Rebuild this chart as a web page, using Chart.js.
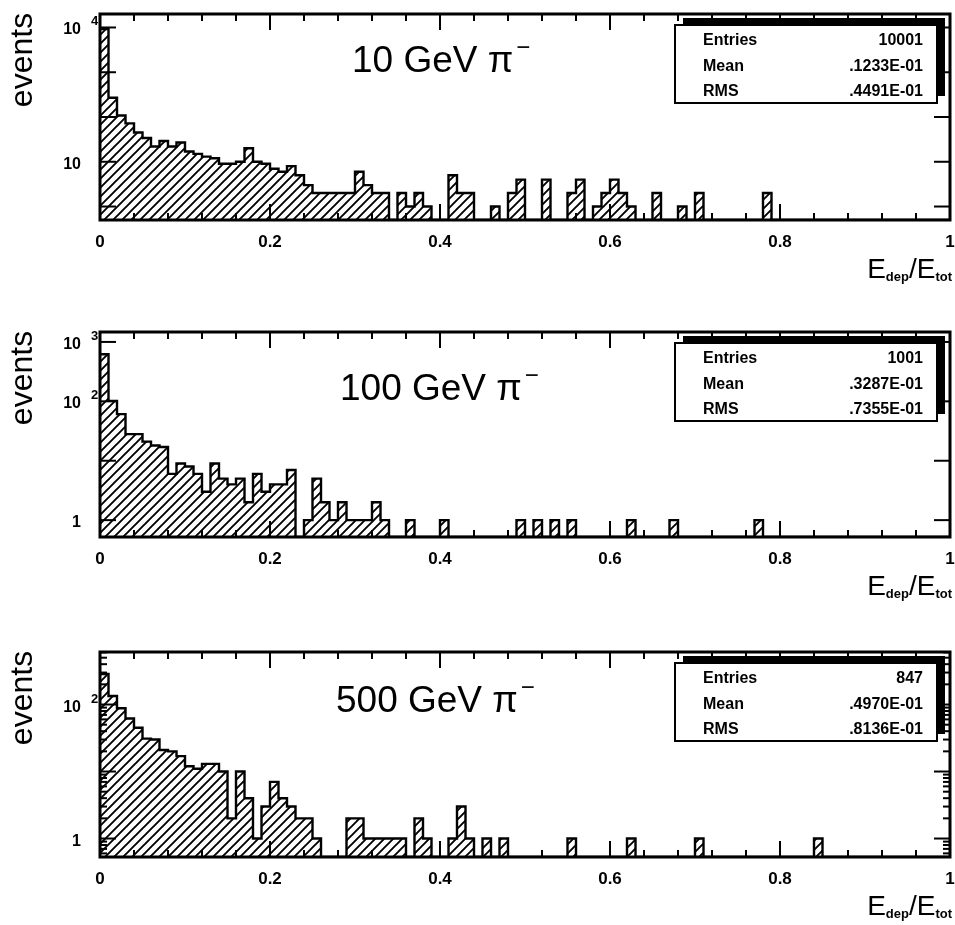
<!DOCTYPE html>
<html>
<head>
<meta charset="utf-8">
<title>Edep/Etot for pi- beams</title>
<script src="https://cdn.jsdelivr.net/npm/chart.js"></script>
<style>
  body { margin: 0; background: #fff; overflow: hidden; }
  .panel { position: absolute; left: 0; }
</style>
</head>
<body>
<canvas id="h10" class="panel" style="top:0px" width="955" height="300"></canvas>
<canvas id="h100" class="panel" style="top:318px" width="955" height="300"></canvas>
<canvas id="h500" class="panel" style="top:638px" width="955" height="287"></canvas>
<script>
// 100 bins of Edep/Etot on [0, 1]
const binLow = 0;
const binWidth = 0.01;

const counts10 = [
  9200, 270, 108, 72, 45, 34, 22, 29, 22, 27,
  17, 15, 13, 12, 9, 9, 10, 20, 10, 9,
  7, 6, 8, 5, 3, 2, 2, 2, 2, 2,
  6, 3, 2, 2, 0, 2, 1, 2, 1, 0,
  0, 5, 2, 2, 0, 0, 1, 0, 2, 4,
  0, 0, 4, 0, 0, 2, 4, 0, 1, 2,
  4, 2, 1, 0, 0, 2, 0, 0, 1, 0,
  2, 0, 0, 0, 0, 0, 0, 0, 2, 0,
  0, 0, 0, 0, 0, 0, 0, 0, 0, 0,
  0, 0, 0, 0, 0, 0, 0, 0, 0, 0
];
const counts100 = [
  620, 102, 61, 28, 28, 21, 18, 17, 6, 9,
  8, 6, 3, 9, 5, 4, 5, 2, 6, 3,
  4, 4, 7, 0, 1, 5, 2, 1, 2, 1,
  1, 1, 2, 1, 0, 0, 1, 0, 0, 0,
  1, 0, 0, 0, 0, 0, 0, 0, 0, 1,
  0, 1, 0, 1, 0, 1, 0, 0, 0, 0,
  0, 0, 1, 0, 0, 0, 0, 1, 0, 0,
  0, 0, 0, 0, 0, 0, 0, 1, 0, 0,
  0, 0, 0, 0, 0, 0, 0, 0, 0, 0,
  0, 0, 0, 0, 0, 0, 0, 0, 0, 0
];
const counts500 = [
  285, 134, 88, 62, 45, 31, 30, 21, 20, 17,
  12, 11, 13, 13, 10, 2, 10, 4, 1, 3,
  7, 4, 3, 2, 2, 1, 0, 0, 0, 2,
  2, 1, 1, 1, 1, 1, 0, 2, 1, 0,
  0, 1, 3, 1, 0, 1, 0, 1, 0, 0,
  0, 0, 0, 0, 0, 1, 0, 0, 0, 0,
  0, 0, 1, 0, 0, 0, 0, 0, 0, 0,
  1, 0, 0, 0, 0, 0, 0, 0, 0, 0,
  0, 0, 0, 0, 1, 0, 0, 0, 0, 0,
  0, 0, 0, 0, 0, 0, 0, 0, 0, 0
];

const beamLabels = ['10 GeV', '100 GeV', '500 GeV'];
const statNames = ['Entries', 'Mean', 'RMS'];
const stats10 = ['10001', '.1233E-01', '.4491E-01'];
const stats100 = ['1001', '.3287E-01', '.7355E-01'];
const stats500 = ['847', '.4970E-01', '.8136E-01'];

const xTickValues = [0, 0.2, 0.4, 0.6, 0.8, 1];
const xTickLabels = ['0', '0.2', '0.4', '0.6', '0.8', '1'];
const yLabels10 = [10000, 10];
const yLabels100 = [1000, 100, 1];
const yLabels500 = [100, 1];

const yRange10 = [0.5, 20000];
const yRange100 = [0.52, 1470];
const yRange500 = [0.53, 608];

const FONT = '"Liberation Sans", Arial, Helvetica, sans-serif';

// diagonal "/" hatching used as the histogram fill
function hatchPattern(ctx) {
  const s = 9;
  const tile = document.createElement('canvas');
  tile.width = s; tile.height = s;
  const g = tile.getContext('2d');
  g.strokeStyle = '#000';
  g.lineWidth = 1.9;
  g.beginPath();
  g.moveTo(-1, s + 1); g.lineTo(s + 1, -1);
  g.moveTo(-1, 1); g.lineTo(1, -1);
  g.moveTo(s - 1, s + 1); g.lineTo(s + 1, s - 1);
  g.stroke();
  return ctx.createPattern(tile, 'repeat');
}

// left bin edges as points; empty bins sit on the axis floor
function stepPoints(counts, floor) {
  const pts = counts.map((c, i) => ({ x: binLow + i * binWidth, y: c > 0 ? c : floor }));
  pts.push({ x: binLow + counts.length * binWidth, y: floor });
  return pts;
}

function yLabelParts(v) {
  const e = Math.round(Math.log10(v));
  if (e === 0) return ['1', ''];
  if (e === 1) return ['10', ''];
  return ['10', String(e)];
}

// frame, inward ticks, labels, title and stats box in the PAW style
const pawFrame = {
  id: 'pawFrame',
  afterDraw(chart, args, o) {
    const ctx = chart.ctx, a = chart.chartArea;
    const xs = chart.scales.x, ys = chart.scales.y;
    const seg = (x1, y1, x2, y2) => { ctx.beginPath(); ctx.moveTo(x1, y1); ctx.lineTo(x2, y2); ctx.stroke(); };
    ctx.save();
    ctx.strokeStyle = '#000';
    ctx.fillStyle = '#000';

    // x ticks every 0.04, long ones every 0.2
    ctx.lineWidth = 2;
    for (let k = 0; k <= 25; k++) {
      const px = xs.getPixelForValue(k * 0.04);
      const len = k % 5 === 0 ? 16 : 7;
      seg(px, a.top, px, a.top + len);
      seg(px, a.bottom, px, a.bottom - len);
    }
    // y ticks on decades (and 2..9 when asked)
    const lo = Math.floor(Math.log10(ys.min)), hi = Math.ceil(Math.log10(ys.max));
    for (let e = lo; e <= hi; e++) {
      for (let m = 1; m <= 9; m++) {
        const v = m * Math.pow(10, e);
        if (v < ys.min || v > ys.max) continue;
        if (m > 1 && !o.minorY) continue;
        const py = ys.getPixelForValue(v);
        const len = m === 1 ? 16 : 7;
        seg(a.left, py, a.left + len, py);
        seg(a.right, py, a.right - len, py);
      }
    }
    // frame
    ctx.lineWidth = 3;
    ctx.strokeRect(a.left, a.top, a.right - a.left, a.bottom - a.top);

    // x tick labels
    ctx.font = 'bold 17px ' + FONT;
    ctx.textAlign = 'center';
    ctx.textBaseline = 'alphabetic';
    xTickValues.forEach((v, i) => ctx.fillText(xTickLabels[i], xs.getPixelForValue(v), a.bottom + 27));

    // y tick labels with exponents
    o.yLabels.forEach(v => {
      const py = ys.getPixelForValue(v);
      const [base, exp] = yLabelParts(v);
      ctx.font = 'bold 16px ' + FONT;
      ctx.textAlign = 'right';
      ctx.fillText(base, a.left - 19, py + 7);
      if (exp) {
        ctx.font = 'bold 13px ' + FONT;
        ctx.textAlign = 'left';
        ctx.fillText(exp, a.left - 9, py - 2);
      }
    });

    // y axis title
    ctx.save();
    ctx.translate(32, a.top + 46);
    ctx.rotate(-Math.PI / 2);
    ctx.font = '32px ' + FONT;
    ctx.textAlign = 'center';
    ctx.fillText('events', 0, 0);
    ctx.restore();

    // x axis title E_dep / E_tot, right aligned with the frame
    const big = '28px ' + FONT, small = 'bold 13px ' + FONT;
    const parts = [['E', big, 0], ['dep', small, 3], ['/', big, 0], ['E', big, 0], ['tot', small, 3]];
    let w = 0;
    parts.forEach(p => { ctx.font = p[1]; w += ctx.measureText(p[0]).width; });
    let tx = a.right + 2 - w;
    const ty = a.bottom + 58;
    ctx.textAlign = 'left';
    parts.forEach(p => {
      ctx.font = p[1];
      ctx.fillText(p[0], tx, ty + p[2]);
      tx += ctx.measureText(p[0]).width;
    });

    // beam label
    ctx.font = '37px ' + FONT;
    ctx.textAlign = 'left';
    const label = o.beam + ' \u03c0';
    ctx.fillText(label, o.titleX, a.top + o.titleDy);
    const lw = ctx.measureText(label).width;
    ctx.font = '24px ' + FONT;
    ctx.fillText('\u2212', o.titleX + lw + 3, a.top + o.titleDy - 17);

    // statistics box with its offset shadow
    const bx = a.left + 575, by = a.top + 11, bw = 262, bh = 78;
    ctx.fillStyle = '#000';
    ctx.fillRect(bx + 8, by - 7, bw, bh);
    ctx.fillStyle = '#fff';
    ctx.fillRect(bx, by, bw, bh);
    ctx.lineWidth = 2;
    ctx.strokeRect(bx, by, bw, bh);
    ctx.fillStyle = '#000';
    ctx.font = 'bold 16px ' + FONT;
    [20, 46, 71].forEach((dy, i) => {
      ctx.textAlign = 'left';
      ctx.fillText(statNames[i], bx + 28, by + dy);
      ctx.textAlign = 'right';
      ctx.fillText(o.stats[i], bx + bw - 14, by + dy);
    });
    ctx.restore();
  }
};

function drawPanel(id, counts, yRange, frameOpts, xAxisHeight) {
  const canvas = document.getElementById(id);
  const ctx = canvas.getContext('2d');
  return new Chart(canvas, {
    type: 'line',
    data: {
      datasets: [{
        data: stepPoints(counts, yRange[0]),
        // hold each bin's count across [edge_i, edge_i+1]
        stepped: 'before',
        fill: 'start',
        backgroundColor: hatchPattern(ctx),
        borderColor: '#000',
        borderWidth: 2.4,
        pointRadius: 0
      }]
    },
    options: {
      responsive: false,
      animation: false,
      events: [],
      layout: { padding: { top: 14, right: 5, left: 0, bottom: 0 } },
      plugins: {
        legend: { display: false },
        tooltip: { enabled: false },
        pawFrame: frameOpts
      },
      scales: {
        x: {
          type: 'linear', min: 0, max: 1,
          grid: { display: false }, border: { display: false }, ticks: { display: false },
          afterFit: s => { s.height = xAxisHeight; }
        },
        y: {
          type: 'logarithmic', min: yRange[0], max: yRange[1], bounds: 'data',
          grid: { display: false }, border: { display: false }, ticks: { display: false },
          afterFit: s => { s.width = 100; }
        }
      }
    },
    plugins: [pawFrame]
  });
}

drawPanel('h10', counts10, yRange10,
  { beam: beamLabels[0], stats: stats10, yLabels: yLabels10, minorY: false, titleX: 352, titleDy: 58 }, 80);
drawPanel('h100', counts100, yRange100,
  { beam: beamLabels[1], stats: stats100, yLabels: yLabels100, minorY: false, titleX: 340, titleDy: 68 }, 81);
drawPanel('h500', counts500, yRange500,
  { beam: beamLabels[2], stats: stats500, yLabels: yLabels500, minorY: true, titleX: 336, titleDy: 60 }, 68);
</script>
</body>
</html>
